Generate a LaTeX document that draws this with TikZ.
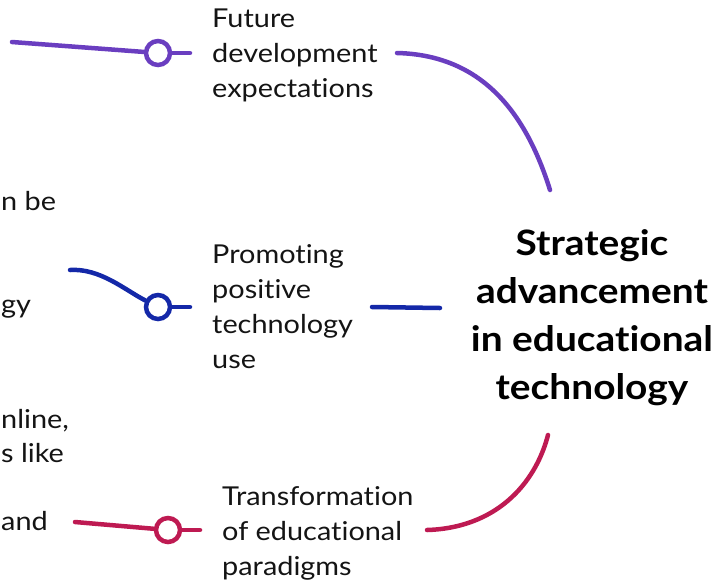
\documentclass[tikz,border=0pt]{standalone}
\usepackage{fontspec}
\setmainfont{Lato}[FakeStretch=1.11, Ligatures=NoCommon]
\definecolor{cpurple}{RGB}{106,62,192}
\definecolor{cblue}{RGB}{20,40,168}
\definecolor{ccrimson}{RGB}{190,26,82}
\definecolor{ctext}{RGB}{20,20,20}
\begin{document}
\begin{tikzpicture}[x=1pt,y=-1pt,
  lbl/.style={font=\fontsize{26}{35}\selectfont, align=left, inner sep=0pt, anchor=north west, text=ctext},
  frag/.style={font=\fontsize{26}{35}\selectfont, inner sep=0pt, anchor=base west, text=ctext},
  hub/.style={font=\fontsize{35}{48}\selectfont\bfseries, align=center, inner sep=0pt, text=black},
  dot/.style={circle, draw=#1, line width=4.5pt, fill=white, minimum size=24pt, inner sep=0pt},
  conn/.style={draw=#1, line width=4.5pt, line cap=round}
]
\useasboundingbox (0,0) rectangle (723,582);

% central topic
\node[hub] (hub) at (592,318) {Strategic\\advancement\\in educational\\technology};

% branch labels
\node[lbl] (fut) at (212,9) {Future\\development\\expectations};
\node[lbl] (pro) at (212,244) {Promoting\\positive\\technology\\use};
\node[lbl] (tra) at (222,486) {Transformation\\of educational\\paradigms};

% fragments of texts at the left edge
\node[frag] (f1) at (1,210) {n be};
\node[frag] (f2) at (1,313) {gy};
\node[frag] (f3) at (1,428) {nline,};
\node[frag] (f4) at (1,462) {s like};
\node[frag] (f5) at (1,530) {and};

% coordinates
\coordinate (p0) at (12,42);  \coordinate (p1) at (190,53);
\coordinate (p2) at (397,53); \coordinate (p3) at (550,190);
\coordinate (b0) at (70,270); \coordinate (b1) at (190,307);
\coordinate (b2) at (372,307); \coordinate (b3) at (440,308);
\coordinate (r0) at (75,522); \coordinate (r1) at (200,530);
\coordinate (r2) at (427,530); \coordinate (r3) at (548,435);

% circles
\node[dot=cpurple] (pc) at (158,53) {};
\node[dot=cblue] (bc) at (158,307) {};
\node[dot=ccrimson] (rc) at (168,530) {};

% purple branch
\draw[conn=cpurple] (p0) -- (pc);
\draw[conn=cpurple] (pc) -- (p1);
\draw[conn=cpurple] (p2) .. controls (480,55) and (525,110) .. (p3);

% blue branch
\draw[conn=cblue] (b0) .. controls (100,268) and (125,290) .. (bc);
\draw[conn=cblue] (bc) -- (b1);
\draw[conn=cblue] (b2) -- (b3);

% crimson branch
\draw[conn=ccrimson] (r0) -- (rc);
\draw[conn=ccrimson] (rc) -- (r1);
\draw[conn=ccrimson] (r2) .. controls (495,528) and (535,485) .. (r3);
\end{tikzpicture}
\end{document}
